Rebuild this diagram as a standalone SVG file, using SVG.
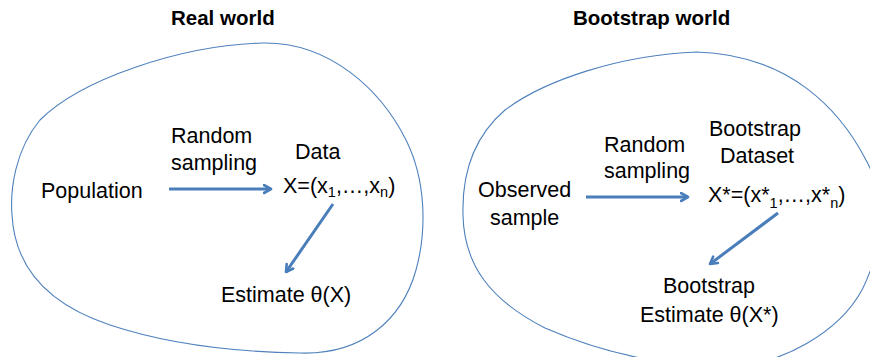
<svg xmlns="http://www.w3.org/2000/svg" width="870" height="357" viewBox="0 0 870 357">
  <style>
    .title { font-family: "Liberation Sans", Arial, sans-serif; font-weight: bold; font-size: 20.5px; fill: #000; }
    .lbl { font-family: "Liberation Sans", Arial, sans-serif; font-size: 21.5px; fill: #000; }
    .sub { font-size: 14.5px; }
    .blob { fill: none; stroke: #4F81BD; stroke-width: 1.1; }
    .arrow { fill: none; stroke: #4A7EBB; stroke-width: 3; marker-end: url(#head); }
  </style>
  <defs>
    <marker id="head" viewBox="0 0 10 10" refX="8.5" refY="5" markerWidth="10" markerHeight="11" markerUnits="userSpaceOnUse" orient="auto">
      <path d="M1.5,1 L8.5,5 L1.5,9" fill="none" stroke="#4A7EBB" stroke-width="2.6" stroke-linecap="round" stroke-linejoin="round"/>
    </marker>
  </defs>
  <rect width="870" height="357" fill="#fff"/>

  <!-- Left panel -->
  <g id="real-world">
    <text class="title" x="171" y="25">Real world</text>
    <path class="blob" d="M263,43 C180,45 80,80 40,120 C15,150 10,190 12,215 C15,270 50,305 110,325 C170,345 240,352 300,353 C362,355 402,320 416,270 C427,230 426,180 406,140 C381,90 330,42 263,43 Z"/>
  </g>
  <g id="population">
    <text class="lbl" x="41" y="198">Population</text>
  </g>
  <g id="sampling-left">
    <text class="lbl" x="171" y="143">Random</text>
    <text class="lbl" x="171" y="170">sampling</text>
  </g>
  <g id="data">
    <text class="lbl" x="295" y="159">Data</text>
    <text class="lbl" x="283" y="193">X=(x<tspan class="sub" dy="4">1</tspan><tspan dy="-4">,…,x</tspan><tspan class="sub" dy="4">n</tspan><tspan dy="-4">)</tspan></text>
  </g>
  <g id="estimate">
    <text class="lbl" x="221" y="302">Estimate θ(X)</text>
  </g>

  <!-- Right panel -->
  <g id="bootstrap-world">
    <text class="title" x="573" y="25">Bootstrap world</text>
    <path class="blob" d="M697,52 C620,55 545,80 505,110 C470,140 462,180 463,215 C464,265 490,300 545,328 C600,352 660,365 720,368 C785,366 840,330 862,290 C882,250 888,200 866,160 C840,110 790,55 697,52 Z"/>
  </g>
  <g id="observed-sample">
    <text class="lbl" x="478" y="197">Observed</text>
    <text class="lbl" x="490" y="225">sample</text>
  </g>
  <g id="sampling-right">
    <text class="lbl" x="604" y="152">Random</text>
    <text class="lbl" x="604" y="178">sampling</text>
  </g>
  <g id="bootstrap-dataset">
    <text class="lbl" x="709" y="136">Bootstrap</text>
    <text class="lbl" x="720" y="163">Dataset</text>
    <text class="lbl" x="708" y="202">X*=(x*<tspan class="sub" dy="6">1</tspan><tspan dy="-6">,…,x*</tspan><tspan class="sub" dy="6">n</tspan><tspan dy="-6">)</tspan></text>
  </g>
  <g id="bootstrap-estimate">
    <text class="lbl" x="663" y="293">Bootstrap</text>
    <text class="lbl" x="640" y="322">Estimate θ(X*)</text>
  </g>

  <!-- Connectors -->
  <g id="connectors">
    <line class="arrow" x1="169" y1="189" x2="271" y2="189"/>
    <line class="arrow" x1="333" y1="204" x2="286" y2="272"/>
    <line class="arrow" x1="586" y1="197" x2="688" y2="197"/>
    <line class="arrow" x1="778" y1="213" x2="710" y2="264"/>
  </g>
</svg>
